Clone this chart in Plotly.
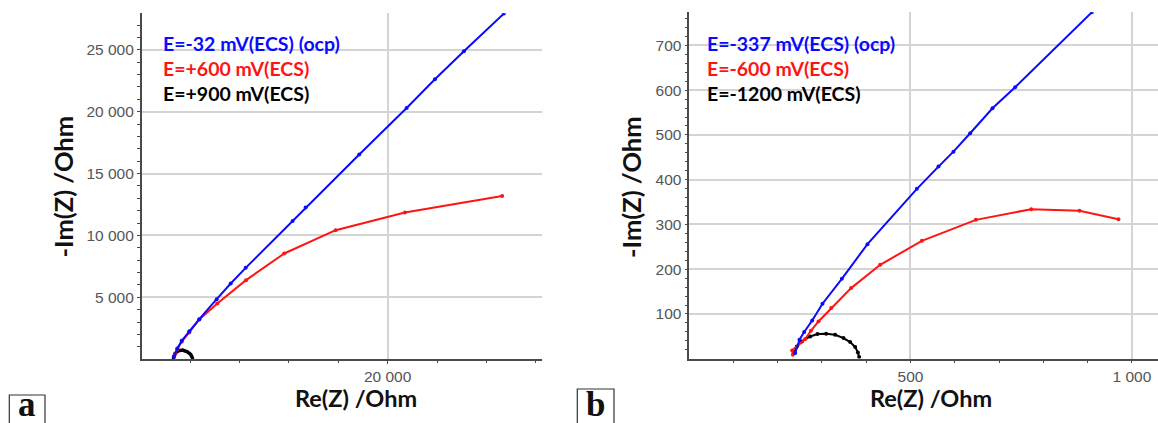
import plotly.graph_objects as go

W, H = 1158, 423

# ---- panel a : Nyquist data, Re(Z) and -Im(Z) in Ohm ----
a_ocp_re = [9185, 9353, 9575, 9960, 10466, 11346, 12055, 12814, 15192, 15850, 18563, 20962, 22394, 23861, 25886]
a_ocp_im = [186, 864, 1478, 2262, 3231, 4847, 6115, 7375, 11171, 12254, 16535, 20299, 22617, 24879, 27924]

a_600_re = [9236, 9353, 9575, 9960, 10466, 11376, 12829, 14767, 17368, 20876, 25800]
a_600_im = [380, 808, 1397, 2157, 3207, 4499, 6381, 8538, 10420, 11850, 13191]

a_900_re = [9150, 9236, 9403, 9626, 9858, 10030, 10132]
a_900_im = [57, 460, 670, 727, 590, 380, 57]

a_labels = ["E=-32 mV(ECS) (ocp)", "E=+600 mV(ECS)", "E=+900 mV(ECS)"]

# ---- panel b ----
b_ocp_re = [239.6, 249.3, 260.0, 278.0, 301.3, 345.0, 402.9, 514.5, 563.2, 597.0, 634.8, 685.2, 736.4, 909.6]
b_ocp_im = [12.7, 42.4, 59.6, 85.5, 122.8, 178.6, 256.0, 379.5, 429.2, 462.7, 503.8, 559.6, 606.5, 774.0]

b_600_re = [234.4, 232.8, 262.2, 275.0, 292.2, 320.9, 366.0, 431.6, 525.7, 647.7, 772.6, 881.7, 969.7]
b_600_im = [8.9, 18.5, 44.0, 62.5, 83.3, 113.2, 157.8, 209.8, 263.4, 310.3, 334.0, 330.4, 311.8]

b_1200_re = [237.4, 243.5, 254.7, 273.5, 290.0, 309.6, 329.9, 348.7, 363.8, 375.1, 381.2, 384.1]
b_1200_im = [12.7, 27.5, 38.6, 49.8, 55.1, 55.8, 53.6, 46.2, 37.3, 26.1, 14.1, 3.8]

b_labels = ["E=-337 mV(ECS) (ocp)", "E=-600 mV(ECS)", "E=-1200 mV(ECS)"]

panel_tags = ["a", "b"]

BLUE, RED, BLACK = "#0a0aff", "#ff1414", "#000000"


def px(x):
    return x / W


def py(y):
    return 1 - y / H


fig = go.Figure()


def add(xs, ys, color, ax, width=2, msize=4):
    fig.add_trace(go.Scatter(
        x=xs, y=ys, mode="lines+markers",
        line=dict(color=color, width=width),
        marker=dict(color=color, size=msize),
        xaxis="x" + ax, yaxis="y" + ax, showlegend=False, hoverinfo="skip",
    ))


add(a_900_re, a_900_im, BLACK, "", width=3.5, msize=3)
add(a_600_re, a_600_im, RED, "")
add(a_ocp_re, a_ocp_im, BLUE, "")
add(b_1200_re, b_1200_im, BLACK, "2")
add(b_600_re, b_600_im, RED, "2")
add(b_ocp_re, b_ocp_im, BLUE, "2")

tick_font = dict(family="Liberation Sans, Arial", size=15.5, color="#555555")
grid = dict(showgrid=True, gridcolor="#d4d4d4", gridwidth=1.6,
            showline=True, linecolor="#4a4a4a", linewidth=1.5,
            ticks="outside", ticklen=3, tickcolor="#4a4a4a",
            tickfont=tick_font, tickformat=",d", zeroline=False)
minor_style = dict(ticks="outside", ticklen=2.5, tickcolor="#4a4a4a", showgrid=False, tick0=0)

fig.update_layout(
    width=W, height=H,
    margin=dict(l=0, r=0, t=0, b=0),
    paper_bgcolor="white", plot_bgcolor="white",
    separators=". ",
    xaxis=dict(domain=[px(141.7), px(541.7)], range=[7550, 27800], dtick=20000, tick0=0,
               anchor="y", minor=dict(dtick=2500, **minor_style), **grid),
    yaxis=dict(domain=[py(359), py(13.3)], range=[10, 27950], dtick=5000, tick0=0,
               anchor="x", minor=dict(dtick=1000, **minor_style), **grid),
    xaxis2=dict(domain=[px(689.3), 1.0], range=[0.5, 1059], dtick=500, tick0=0,
                anchor="y2", minor=dict(dtick=100, **minor_style), **grid),
    yaxis2=dict(domain=[py(358.5), py(12.3)], range=[0.5, 774], dtick=100, tick0=0,
                anchor="x2", minor=dict(dtick=20, **minor_style), **grid),
)

title_font = dict(family="Lato, Open Sans, sans-serif", size=23.5, color="#111111")
ytitle_font = dict(family="Lato, Open Sans, sans-serif", size=25.5, color="#111111")
legend_font = dict(family="Lato, Open Sans, sans-serif", size=19.5)

ann = []
# axis titles
for xc, yc in [(356, 398), (931, 398)]:
    ann.append(dict(text="<b>Re(Z) /Ohm</b>", x=px(xc), y=py(yc), xref="paper", yref="paper",
                    showarrow=False, font=title_font, xanchor="center", yanchor="middle"))
for xc, yc in [(62.5, 187), (631, 187)]:
    ann.append(dict(text="<b>-Im(Z) /Ohm</b>", x=px(xc), y=py(yc), xref="paper", yref="paper",
                    showarrow=False, font=ytitle_font, textangle=-90,
                    xanchor="center", yanchor="middle"))

# in-plot series labels
colors = [BLUE, RED, BLACK]
for labels, x0 in [(a_labels, 161), (b_labels, 705)]:
    for i, (lab, col) in enumerate(zip(labels, colors)):
        ann.append(dict(text="<b>" + lab + "</b>", x=px(x0), y=py(43 + 25 * i),
                        xref="paper", yref="paper", showarrow=False,
                        font=dict(color=col, **legend_font),
                        xanchor="left", yanchor="middle"))

# boxed panel tags
shapes = []
for tag, (bx0, bx1, btop) in zip(panel_tags, [(9.3, 45, 395), (577.3, 614, 389)]):
    shapes.append(dict(type="rect", xref="paper", yref="paper",
                       x0=px(bx0), x1=px(bx1), y0=py(440), y1=py(btop),
                       line=dict(color="#333333", width=1.2), fillcolor="white"))
    ann.append(dict(text="<b>" + tag + "</b>", x=px((bx0 + bx1) / 2), y=py(404), xref="paper",
                    yref="paper", showarrow=False, xanchor="center", yanchor="middle",
                    font=dict(family="Liberation Serif, DejaVu Serif, serif", size=35,
                              color="#111111")))

fig.update_layout(annotations=ann, shapes=shapes)

fig.write_html("out.html")
